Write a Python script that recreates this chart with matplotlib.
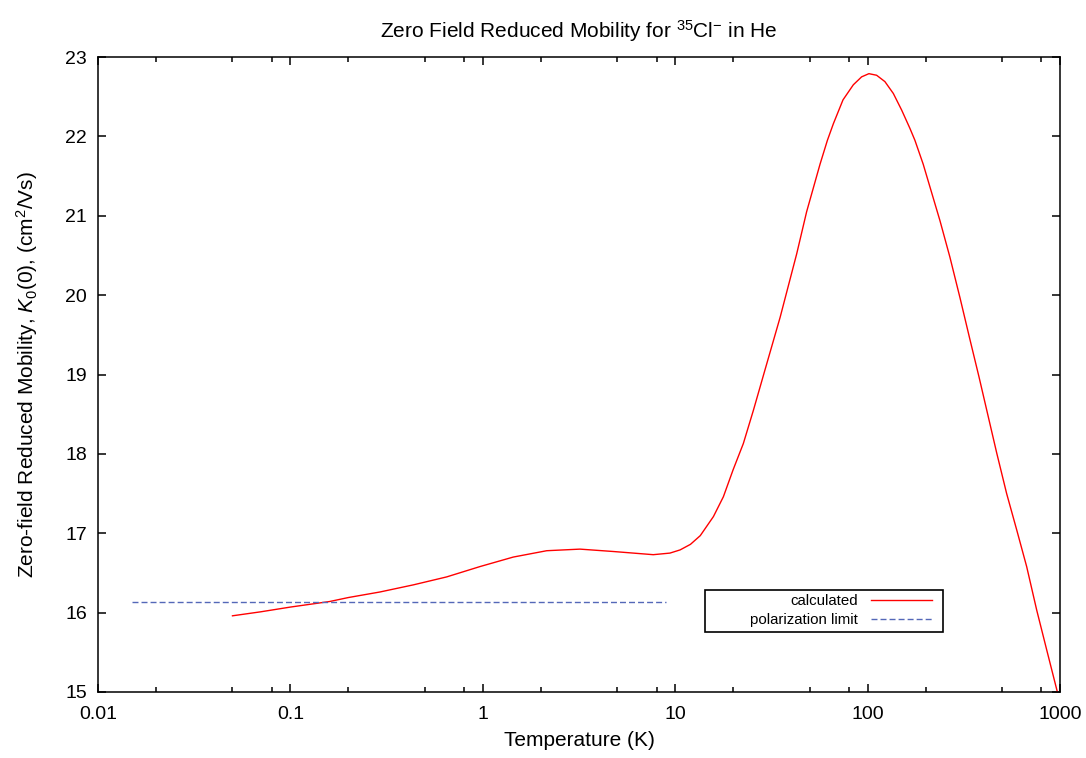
"""Zero field reduced mobility of 35Cl- in He vs temperature."""

import matplotlib

matplotlib.use("Agg")
import matplotlib.pyplot as plt
from matplotlib.patches import Rectangle
from matplotlib.ticker import FixedLocator, FuncFormatter, NullFormatter

plt.rcParams["font.family"] = ["Liberation Sans", "DejaVu Sans"]
plt.rcParams["mathtext.fontset"] = "custom"
plt.rcParams["mathtext.rm"] = "Liberation Sans"
plt.rcParams["mathtext.it"] = "Liberation Sans:italic"

# calculated mobility
temp_k = [0.05, 0.07, 0.1, 0.16, 0.2, 0.292, 0.436, 0.649, 0.966, 1.44, 2.15,
          3.20, 4.77, 7.69, 9.39, 10.6, 12.0, 13.5, 15.8, 17.8, 20.0, 22.6,
          25.5, 29.3, 35.1, 42.8, 48.2, 56.6, 61.8, 66.4, 74.5, 84.3, 93.1,
          101.6, 111.4, 123.0, 136.1, 150.4, 166.0, 176.2, 194.5, 237.6,
          267.7, 301.9, 340.4, 379.3, 469.0, 528.0, 596.0, 671.0, 757.0,
          853.0, 962.0, 1000.0]
mobility = [15.96, 16.01, 16.07, 16.14, 16.19, 16.26, 16.35, 16.45, 16.58,
            16.70, 16.78, 16.80, 16.77, 16.73, 16.75, 16.79, 16.86, 16.97,
            17.21, 17.46, 17.80, 18.13, 18.55, 19.06, 19.72, 20.52, 21.05,
            21.65, 21.95, 22.16, 22.46, 22.65, 22.75, 22.79, 22.77, 22.69,
            22.54, 22.33, 22.10, 21.95, 21.65, 20.94, 20.48, 19.97, 19.44,
            18.97, 18.01, 17.50, 17.04, 16.58, 16.03, 15.53, 15.03, 14.87]

# polarization limit
pol_temp = [0.015, 9.0]
pol_value = [16.14, 16.14]

fig = plt.figure(figsize=(10.86, 7.58), dpi=100)
ax = fig.add_axes([98 / 1086, 1 - 692 / 758, 962 / 1086, 635 / 758])

ax.plot(temp_k, mobility, color="#ff0000", lw=1.0, label="calculated")
ax.plot(pol_temp, pol_value, color="#5468b8", lw=1.0, dashes=(4.3, 2.2),
        label="polarization limit")

ax.set_xscale("log")
ax.set_xlim(0.01, 1000)
ax.set_ylim(15, 23)

major = [0.01, 0.1, 1, 10, 100, 1000]
minor = [d * s for d in major[:-1] for s in (2, 5, 8)]
ax.xaxis.set_major_locator(FixedLocator(major))
ax.xaxis.set_minor_locator(FixedLocator(minor))
ax.xaxis.set_major_formatter(FuncFormatter(lambda v, p: f"{v:g}"))
ax.xaxis.set_minor_formatter(NullFormatter())
ax.set_yticks(range(15, 24))

ax.tick_params(which="both", direction="in", top=True, right=True,
               labelsize=14, width=1.1)
ax.tick_params(which="major", length=6)
ax.tick_params(which="minor", length=3.5)
ax.tick_params(axis="x", which="major", pad=10)
ax.tick_params(axis="y", which="major", pad=8)
for sp in ax.spines.values():
    sp.set_linewidth(1.1)

ax.set_title(r"Zero Field Reduced Mobility for $^{35}$Cl$^{-}$ in He",
             fontsize=15, pad=14)
ax.set_xlabel("Temperature (K)", fontsize=15, labelpad=6)
ax.set_ylabel(r"Zero-field Reduced Mobility, $\mathit{K_0(0)}$, (cm$^2$/Vs)",
              fontsize=15, labelpad=18)

# legend box
ax.add_patch(Rectangle((0.631, 0.0945), 0.247, 0.066, transform=ax.transAxes,
                       fill=False, ec="black", lw=1.2, zorder=5))
ax.legend(loc="center right", bbox_to_anchor=(0.867, 0.128),
          borderaxespad=0, borderpad=0, frameon=False, markerfirst=False,
          fontsize=10.8, handlelength=4.1, handletextpad=0.85,
          labelspacing=0.35)

fig.savefig("out.png", dpi=100)
